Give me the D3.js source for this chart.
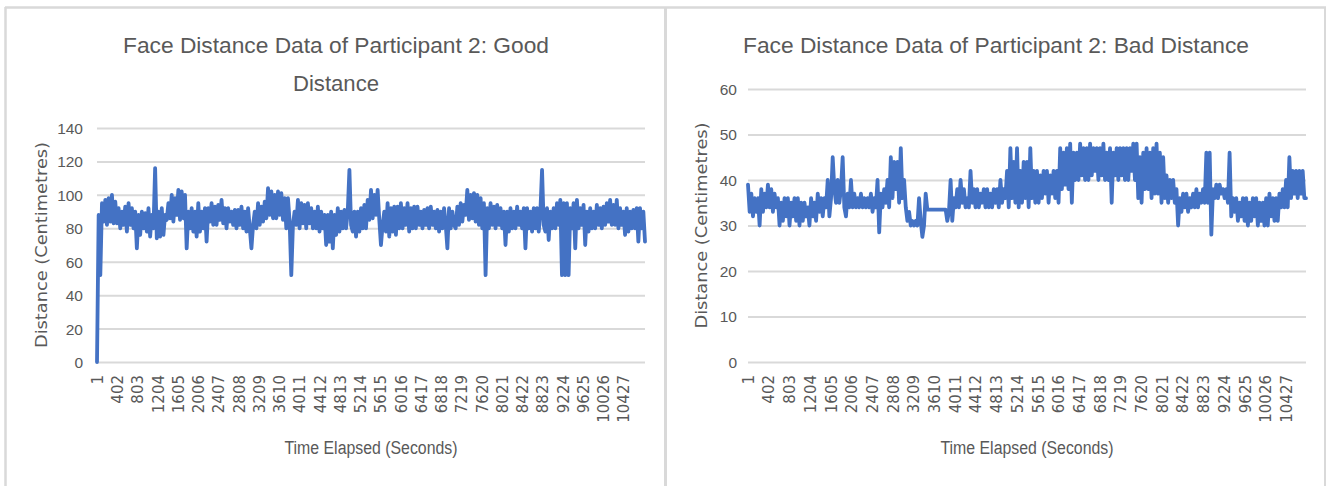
<!DOCTYPE html>
<html>
<head>
<meta charset="utf-8">
<script src="https://cdn.jsdelivr.net/npm/d3@7"></script>
<style>
  body { margin: 0; background: #fff; }
  svg { display: block; background: #fff; }
  .frame { stroke: #d9d9d9; fill: none; }
  .title { fill: #595959; font-family: "Liberation Sans", Arial, sans-serif; font-size: 22px; }
  .axis-title { fill: #595959; font-family: "Liberation Sans", Arial, sans-serif; font-size: 18px; }
  .y-title { fill: #595959; font-family: "DejaVu Sans", Verdana, sans-serif; font-size: 16px; }
  .grid line { stroke: #d9d9d9; stroke-width: 2; }
  .grid path { display: none; }
  .y-axis text { fill: #595959; font-family: "Liberation Sans", Arial, sans-serif; font-size: 15.5px; }
  .x-axis text { fill: #595959; font-family: "DejaVu Sans", Verdana, sans-serif; font-size: 15px; }
  .series { fill: none; stroke: #4472c4; stroke-width: 3.8; stroke-linejoin: round; stroke-linecap: round; }
</style>
</head>
<body>
<svg id="board" width="1326" height="486"></svg>
<script>

// Category labels Excel printed on the time axis (every 401 seconds).
var timeTicks = [1, 402, 803, 1204, 1605, 2006, 2407, 2808, 3209, 3610, 4011, 4412, 4813,
  5214, 5615, 6016, 6417, 6818, 7219, 7620, 8021, 8422, 8823, 9224, 9625, 10026, 10427];

var goodTicks = [0, 20, 40, 60, 80, 100, 120, 140];
var badTicks = [0, 10, 20, 30, 40, 50, 60];

// Length of each recording, in seconds.
var goodSeconds = 10850;
var badSeconds = 10810;

// Distance readings (cm), evenly spread over the recording.
var goodDistance = [
  0, 88, 52, 95, 84, 97,   82, 98, 84, 100, 83, 96,   83, 92, 80, 90, 82, 93,
  78, 95, 82, 92, 80, 90,   68, 88, 76, 90, 80, 89,   78, 92, 75, 88, 80, 116,
  74, 90, 75, 92, 76, 88,   85, 95, 86, 100, 84, 98,   88, 103, 85, 102, 86, 100,
  68, 90, 80, 92, 78, 90,   75, 95, 78, 90, 80, 92,   72, 92, 84, 95, 82, 93,
  82, 94, 85, 97, 83, 92,   80, 92, 84, 90, 82, 91,   80, 91, 82, 93, 80, 90,
  78, 92, 80, 68, 82, 90,   80, 95, 82, 93, 84, 96,   86, 104, 88, 102, 86, 100,
  86, 102, 88, 101, 85, 98,   80, 98, 84, 52, 82, 90,   82, 97, 80, 95, 83, 94,
  80, 95, 83, 92, 80, 90,   80, 93, 78, 90, 80, 88,   70, 88, 72, 90, 68, 88,
  76, 92, 78, 90, 80, 91,   80, 90, 115, 82, 78, 90,   75, 90, 78, 92, 80, 94,
  80, 97, 85, 103, 86, 100,   88, 103, 85, 70, 82, 90,   78, 95, 75, 92, 78, 93,
  76, 93, 80, 95, 80, 92,   82, 95, 78, 92, 80, 93,   80, 93, 82, 90, 80, 91,
  82, 92, 80, 93, 82, 90,   80, 91, 78, 90, 80, 92,   82, 68, 92, 80, 90, 82,
  80, 93, 82, 95, 84, 94,   88, 103, 85, 100, 86, 101,   84, 100, 82, 98, 80, 95,
  52, 92, 80, 95, 82, 93,   80, 94, 82, 92, 80, 90,   70, 90, 78, 92, 80, 90,
  80, 93, 82, 90, 80, 92,   68, 92, 80, 90, 78, 92,   80, 92, 78, 90, 115, 82,
  78, 92, 73, 90, 80, 92,   80, 95, 82, 97, 52, 95,   52, 95, 52, 92, 80, 95,
  68, 97, 80, 92, 82, 94,   70, 90, 78, 92, 80, 90,   80, 94, 82, 92, 80, 93,
  82, 95, 84, 97, 82, 94,   82, 97, 80, 92, 82, 90,   76, 92, 78, 90, 80, 91,
  80, 92, 72, 92, 80, 90,   72
];

var badDistance = [
  39, 33, 37, 32, 36, 33,   36, 30, 38, 33, 37, 34,   39, 34, 38, 33, 37, 34,
  36, 30, 35, 31, 36, 32,   36, 30, 35, 32, 36, 31,   36, 30, 35, 31, 35, 32,
  34, 30, 36, 32, 35, 31,   37, 33, 36, 32, 36, 34,   40, 32, 36, 45, 38, 35,
  40, 35, 38, 45, 34, 32,   37, 34, 40, 34, 37, 34,   36, 34, 37, 34, 36, 34,
  36, 34, 37, 33, 36, 34,   40, 28.5, 37, 34, 38, 35,   40, 34, 45, 36, 44, 38,
  44, 35, 47, 36, 40, 34,   31, 33, 30, 31, 30, 31,   30, 36, 31, 27.5, 30, 37,
  33.5, 33.5, 33.5, 33.5, 33.5, 33.5,   33.5, 33.5, 33.5, 33.5, 33.5, 33.5,
  31, 33, 40, 31, 36, 34,   38, 34, 40, 35, 38, 34,   36, 34, 42, 35, 38, 34,
  38, 34, 37, 35, 38, 34,   38, 34, 37, 34, 38, 35,   38, 34, 40, 35, 38, 36,
  42, 34, 47, 36, 44, 35,   47, 34, 42, 35, 44, 36,   44, 34, 47, 36, 42, 35,
  42, 35, 41, 36, 42, 37,   42, 35, 41, 37, 42, 36,   42, 35, 47, 38, 46, 39,
  47, 38, 48, 35, 46, 40,   46, 40, 48, 41, 47, 40,   47, 40, 48, 41, 47, 42,
  47, 40, 47, 41, 48, 40,   46, 40, 47, 35, 46, 41,   47, 40, 47, 41, 47, 40,
  47, 40, 47, 42, 48, 40,   48, 36, 45, 35, 46, 38,   47, 38, 46, 36, 47, 37,
  48, 37, 46, 35, 45, 36,   41, 35, 40, 36, 40, 35,   38, 30, 36, 33, 37, 34,
  37, 33, 36, 34, 37, 34,   38, 34, 37, 35, 38, 35,   46, 35, 46, 28, 38, 36,
  39, 36, 39, 37, 38, 36,   38, 35, 46, 32, 36, 33,   36, 31, 35, 32, 36, 31,
  36, 30, 35, 31, 36, 32,   36, 30, 35, 31, 35, 30,   36, 30, 37, 32, 36, 31,
  36, 31, 37, 34, 38, 34,   40, 34, 45, 36, 42, 37,   42, 36, 42, 37, 42, 36,
  36
];

var svg = d3.select("#board");

// Light grey frame round the two charts, with a divider in the middle.
svg.append("line").attr("class", "frame").attr("stroke-width", 2.5)
  .attr("x1", 5).attr("x2", 1326).attr("y1", 7.5).attr("y2", 7.5);
svg.append("line").attr("class", "frame").attr("stroke-width", 2.5)
  .attr("x1", 5.5).attr("x2", 5.5).attr("y1", 7).attr("y2", 486);
svg.append("line").attr("class", "frame").attr("stroke-width", 3)
  .attr("x1", 665.5).attr("x2", 665.5).attr("y1", 7).attr("y2", 486);
svg.append("line").attr("class", "frame").attr("stroke-width", 2)
  .attr("x1", 1325).attr("x2", 1325).attr("y1", 7).attr("y2", 486);

var drawChart = function (opts) {
  var g = svg.append("g");

  var x = d3.scaleLinear().domain([1, opts.seconds]).range([opts.left, opts.right]);
  var y = d3.scaleLinear().domain([0, opts.max]).range([opts.bottom, opts.top]);

  // Gridlines first so the series sits on top of them.
  g.append("g").attr("class", "grid")
    .attr("transform", "translate(" + opts.left + ",0)")
    .call(d3.axisLeft(y).tickValues(opts.ticks).tickSize(-(opts.right - opts.left)).tickFormat(""));

  g.append("g").attr("class", "y-axis")
    .attr("transform", "translate(" + opts.left + ",0)")
    .call(d3.axisLeft(y).tickValues(opts.ticks).tickSize(0).tickPadding(opts.labelGap))
    .call(function (a) { a.select(".domain").remove(); })
    .selectAll("text").attr("dy", "0.35em");

  // Time labels stand on end below the axis.
  g.append("g").attr("class", "x-axis")
    .attr("transform", "translate(0," + opts.bottom + ")")
    .call(d3.axisBottom(x).tickValues(timeTicks).tickSize(0).tickFormat(d3.format("d")))
    .call(function (a) { a.select(".domain").remove(); })
    .selectAll("text")
    .attr("transform", "rotate(-90)")
    .attr("text-anchor", "end")
    .attr("x", -13).attr("y", 0).attr("dy", "0.35em");

  var step = (opts.seconds - 1) / (opts.values.length - 1);
  var line = d3.line()
    .x(function (d, i) { return x(1 + i * step); })
    .y(function (d) { return y(d); });

  g.append("path").attr("class", "series").datum(opts.values).attr("d", line);

  // Chart title, one or two lines.
  opts.title.forEach(function (t, i) {
    g.append("text").attr("class", "title")
      .attr("x", opts.titleX).attr("y", 53 + i * 37.5)
      .attr("text-anchor", "middle")
      .attr("textLength", t.width).attr("lengthAdjust", "spacingAndGlyphs")
      .text(t.text);
  });

  g.append("text").attr("class", "axis-title")
    .attr("x", (opts.left + opts.right) / 2).attr("y", 454)
    .attr("text-anchor", "middle")
    .attr("textLength", 173).attr("lengthAdjust", "spacingAndGlyphs")
    .text("Time Elapsed (Seconds)");

  var cy = (opts.top + opts.bottom) / 2;
  g.append("text").attr("class", "y-title")
    .attr("transform", "translate(" + opts.yTitleX + "," + cy + ") rotate(-90)")
    .attr("text-anchor", "middle")
    .attr("textLength", 206).attr("lengthAdjust", "spacingAndGlyphs")
    .text("Distance (Centimetres)");
};

drawChart({
  values: goodDistance, seconds: goodSeconds, max: 140, ticks: goodTicks,
  left: 97, right: 645, top: 128, bottom: 362, labelGap: 14, yTitleX: 47,
  titleX: 336,
  title: [{ text: "Face Distance Data of Participant 2: Good", width: 426 },
          { text: "Distance", width: 86 }]
});

drawChart({
  values: badDistance, seconds: badSeconds, max: 60, ticks: badTicks,
  left: 748, right: 1306, top: 89, bottom: 362, labelGap: 11, yTitleX: 707,
  titleX: 996,
  title: [{ text: "Face Distance Data of Participant 2: Bad Distance", width: 506 }]
});

</script>
</body>
</html>
